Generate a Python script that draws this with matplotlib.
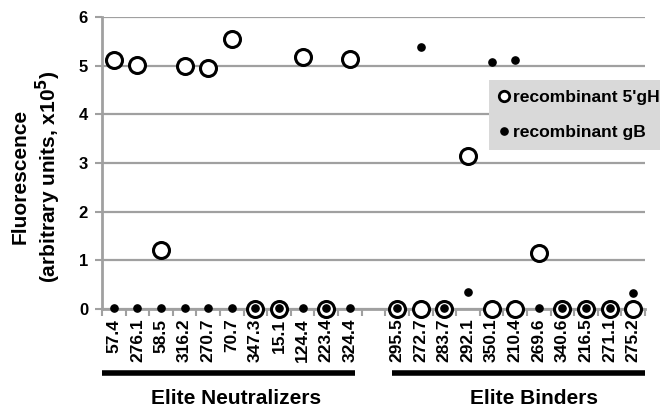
import matplotlib
matplotlib.use("Agg")
import matplotlib.pyplot as plt
import matplotlib.transforms as mtransforms
from matplotlib.lines import Line2D
import numpy as np

plt.rcParams['font.family'] = ['Liberation Sans', 'DejaVu Sans']
plt.rcParams['font.weight'] = 'bold'
plt.rcParams['mathtext.default'] = 'bf'

neutralizers = ["57.4", "276.1", "58.5", "316.2", "270.7", "70.7", "347.3",
                "15.1", "124.4", "223.4", "324.4"]
binders = ["295.5", "272.7", "283.7", "292.1", "350.1", "210.4", "269.6",
           "340.6", "216.5", "271.1", "275.2"]

gH_neutralizers = [5.11, 5.01, 1.21, 4.99, 4.95, 5.54, 0.0, 0.0, 5.17, 0.0, 5.13]
gB_neutralizers = [0.02, 0.02, 0.02, 0.02, 0.02, 0.02, 0.02, 0.02, 0.02, 0.02, 0.02]
gH_binders = [0.0, 0.0, 0.0, 3.14, 0.0, 0.0, 1.15, 0.0, 0.0, 0.0, 0.0]
gB_binders = [0.02, 5.39, 0.02, 0.35, 5.07, 5.11, 0.02, 0.02, 0.02, 0.02, 0.33]

group_names = ["Elite Neutralizers", "Elite Binders"]
series_names = ["recombinant 5'gH", "recombinant gB"]
y_ticks = [0, 1, 2, 3, 4, 5, 6]

labels = neutralizers + [""] + binders
gH = gH_neutralizers + [np.nan] + gH_binders
gB = gB_neutralizers + [np.nan] + gB_binders
x = np.arange(len(labels))

GRAY = '#a0a0a0'
fig = plt.figure(figsize=(6.6, 4.13), dpi=100)
ax = fig.add_axes([102/660, 1-309/413, (645-102)/660, (309-17)/413])

ax.set_ylim(0, 6)
ax.set_xlim(-0.5, len(labels)-0.5)
ax.set_yticks(y_ticks)
ax.yaxis.grid(True, color=GRAY, linewidth=1.6)
ax.set_axisbelow(True)
for s in ['top', 'right']:
    ax.spines[s].set_visible(False)
for s in ['left', 'bottom']:
    ax.spines[s].set_color(GRAY)
    ax.spines[s].set_linewidth(2)

ax.set_xticks(x)
ax.set_xticklabels(labels, rotation=90, fontsize=12.5, fontweight='bold')
ax.tick_params(axis='x', which='major', length=0, pad=7)
ax.set_xticks(np.arange(-0.5, len(labels)), minor=True)
ax.tick_params(axis='x', which='minor', length=5, color=GRAY, width=1.5, direction='out')
ax.tick_params(axis='y', length=5, color=GRAY, width=1.5, labelsize=12, pad=5)
for t in ax.get_yticklabels():
    t.set_fontweight('bold')

h1, = ax.plot(x, gH, linestyle='none', marker='o', markersize=11.5,
              markerfacecolor='white', markeredgecolor='black',
              markeredgewidth=2.2, clip_on=False, zorder=3)
h2, = ax.plot(x, gB, linestyle='none', marker='o', markersize=5.2,
              markerfacecolor='black', markeredgecolor='black',
              clip_on=False, zorder=4)

ax.set_ylabel("Fluorescence\n(arbitrary units, x10$^5$)",
              fontsize=15, fontweight='bold', linespacing=1.2)
ax.yaxis.set_label_coords(-0.071, 0.455)

# group bars and labels
trans = mtransforms.blended_transform_factory(ax.transData, ax.transAxes)
ax.plot([-0.5, 10.2], [-0.219, -0.219], color='black', linewidth=4,
        transform=trans, clip_on=False, solid_capstyle='butt')
ax.plot([11.8, 22.5], [-0.219, -0.219], color='black', linewidth=4,
        transform=trans, clip_on=False, solid_capstyle='butt')
ax.text(5.18, -0.305, group_names[0], transform=trans, ha='center', va='center',
        fontsize=15, fontweight='bold')
ax.text(17.8, -0.305, group_names[1], transform=trans, ha='center', va='center',
        fontsize=15, fontweight='bold')

lh1 = Line2D([], [], linestyle='none', marker='o', markersize=7.5,
             markerfacecolor='white', markeredgecolor='black', markeredgewidth=2)
lh2 = Line2D([], [], linestyle='none', marker='o', markersize=5.2,
             markerfacecolor='black', markeredgecolor='black')
leg = fig.legend([lh1, lh2], series_names, loc='upper left',
                 bbox_to_anchor=(489/660, 1-80/413), borderaxespad=0,
                 frameon=True, fancybox=False, facecolor='#d9d9d9',
                 edgecolor='none', framealpha=1,
                 handlelength=0.6, handletextpad=0.2, borderpad=0.55,
                 labelspacing=1.14,
                 prop={'weight': 'bold', 'size': 12.6})

fig.savefig("out.png", dpi=100)
